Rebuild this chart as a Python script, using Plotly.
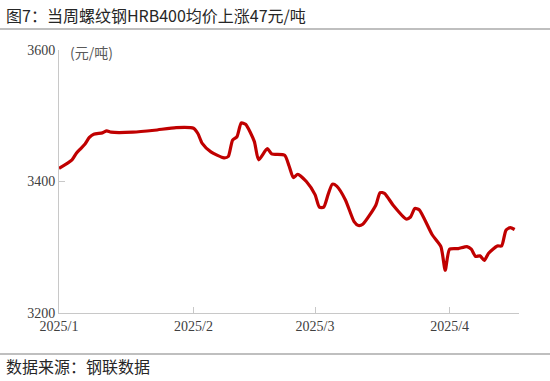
import plotly.graph_objects as go

dates = [
    "2025-01-01", "2025-01-04", "2025-01-05", "2025-01-06", "2025-01-07", "2025-01-08",
    "2025-01-09", "2025-01-11", "2025-01-12", "2025-01-13", "2025-01-18", "2025-01-23",
    "2025-01-28", "2025-02-01", "2025-02-02", "2025-02-03", "2025-02-05", "2025-02-08",
    "2025-02-09", "2025-02-10", "2025-02-11", "2025-02-12", "2025-02-13", "2025-02-15",
    "2025-02-16", "2025-02-18", "2025-02-19", "2025-02-22", "2025-02-23", "2025-02-24",
    "2025-02-25", "2025-02-27", "2025-03-01", "2025-03-02", "2025-03-03", "2025-03-04",
    "2025-03-05", "2025-03-06", "2025-03-08", "2025-03-10", "2025-03-11", "2025-03-12",
    "2025-03-15", "2025-03-16", "2025-03-17", "2025-03-19", "2025-03-22", "2025-03-23",
    "2025-03-24", "2025-03-25", "2025-03-28", "2025-03-30", "2025-03-31", "2025-04-01",
    "2025-04-03", "2025-04-05", "2025-04-06", "2025-04-07", "2025-04-08", "2025-04-09",
    "2025-04-10", "2025-04-12", "2025-04-13", "2025-04-14", "2025-04-15", "2025-04-16",
]
prices = [
    3420, 3433, 3443, 3450, 3457, 3467,
    3472, 3474, 3477, 3475, 3475, 3478,
    3482, 3481, 3473, 3458, 3445, 3436,
    3438, 3463, 3468, 3489, 3487, 3461,
    3433, 3450, 3442, 3440, 3424, 3406,
    3411, 3400, 3380, 3361, 3361, 3380,
    3396, 3393, 3372, 3339, 3333, 3335,
    3364, 3383, 3382, 3364, 3343, 3346,
    3359, 3357, 3319, 3301, 3265, 3297,
    3298, 3301, 3297, 3286, 3287, 3280,
    3291, 3302, 3302, 3326, 3330, 3327,
]

x_tickvals = ["2025-01-01", "2025-02-01", "2025-03-01", "2025-04-01"]
x_ticktext = ["2025/1", "2025/2", "2025/3", "2025/4"]
y_tickvals = [3200, 3400, 3600]

title_text = "图7：当周螺纹钢HRB400均价上涨47元/吨"
unit_text = "(元/吨)"
source_text = "数据来源：钢联数据"

W, H = 550, 381
ML, MR, MT, MB = 59, 31, 50, 68
PW, PH = W - ML - MR, H - MT - MB

def px_x(p):
    return (p - ML) / PW

def px_y(p):
    return (H - MB - p) / PH

fig = go.Figure()
fig.add_trace(go.Scatter(
    x=dates, y=prices, mode="lines",
    line=dict(color="#C00000", width=3.2, shape="spline", smoothing=0.6),
    hoverinfo="skip", showlegend=False,
))

axis_font = dict(family="Liberation Serif, Times New Roman, serif", size=14, color="#404040")

fig.update_layout(
    width=W, height=H,
    margin=dict(l=ML, r=MR, t=MT, b=MB),
    paper_bgcolor="white", plot_bgcolor="white",
    showlegend=False,
    xaxis=dict(
        type="date", range=["2025-01-01", "2025-04-17"],
        tickvals=x_tickvals, ticktext=x_ticktext,
        showline=True, linecolor="#c8c8c8", linewidth=1,
        ticks="inside", ticklen=6, tickcolor="#c8c8c8",
        showgrid=False, zeroline=False, tickfont=axis_font,
    ),
    yaxis=dict(
        range=[3200, 3600], tickvals=y_tickvals,
        showline=True, linecolor="#c8c8c8", linewidth=1,
        ticks="inside", ticklen=6, tickcolor="#c8c8c8",
        showgrid=False, zeroline=False, tickfont=axis_font,
    ),
)

cjk = "Noto Sans CJK SC"
fig.add_annotation(text=title_text, xref="paper", yref="paper",
                   x=px_x(4), y=px_y(15), xanchor="left", yanchor="middle",
                   showarrow=False, font=dict(family=cjk, size=16, color="#262626"))
fig.add_annotation(text=unit_text, xref="paper", yref="paper",
                   x=px_x(68), y=px_y(52), xanchor="left", yanchor="middle",
                   showarrow=False, font=dict(family=cjk, size=14, color="#595959"))
fig.add_annotation(text=source_text, xref="paper", yref="paper",
                   x=px_x(4), y=px_y(366), xanchor="left", yanchor="middle",
                   showarrow=False, font=dict(family=cjk, size=16, color="#262626"))

for py in (29, 354):
    fig.add_shape(type="line", xref="paper", yref="paper",
                  x0=px_x(0), x1=px_x(W), y0=px_y(py), y1=px_y(py),
                  line=dict(color="#808080", width=1.2))

fig.write_html("out.html", config={"displayModeBar": False},
               post_script="document.body.style.margin='0';")
